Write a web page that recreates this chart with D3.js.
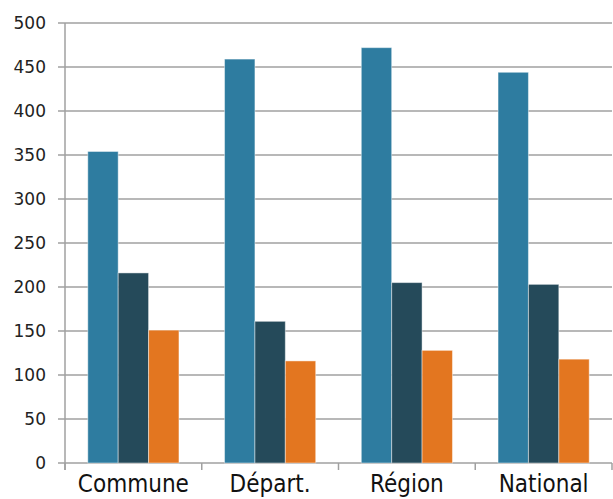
<!DOCTYPE html>
<html><head><meta charset="utf-8">
<script src="https://cdn.jsdelivr.net/npm/d3@7"></script>
<style>body{margin:0;background:#fff}svg{display:block}</style>
</head><body>
<svg id="c" width="613" height="499"></svg>
<script>
const categories = ["Commune", "Départ.", "Région", "National"];
const seriesNames = ["s1", "s2", "s3"];
const s1 = [354, 459, 472, 444];
const s2 = [216, 161, 205, 203];
const s3 = [151, 116, 128, 118];
const yTicks = [0, 50, 100, 150, 200, 250, 300, 350, 400, 450, 500];
const colors = ["#2e7ca0", "#254a5a", "#e37620"];

const svg = d3.select("#c");
const L = 65, R = 612, T = 23, B = 463;
const x = d3.scaleBand().domain(categories).range([L, R]).paddingInner(0).paddingOuter(0);
const y = d3.scaleLinear().domain([0, 500]).range([B, T]);
const x1 = d3.scaleBand().domain(seriesNames).range([0, x.bandwidth()]).paddingOuter(0.75).paddingInner(0);

// gridlines
svg.append("g").selectAll("line").data(yTicks).join("line")
  .attr("x1", L - 7).attr("x2", R).attr("y1", d => y(d)).attr("y2", d => y(d))
  .attr("stroke", "#a0a0a0").attr("stroke-width", 1.5);

// bars
const data = categories.map((c, i) => ({c, vals: [s1[i], s2[i], s3[i]]}));
const g = svg.append("g");
data.forEach(d => {
  g.append("g").attr("transform", `translate(${x(d.c)},0)`)
   .selectAll("rect").data(d.vals.map((v, j) => ({v, k: seriesNames[j], j}))).join("rect")
   .attr("x", e => x1(e.k)).attr("width", x1.bandwidth())
   .attr("y", e => y(e.v)).attr("height", e => B - y(e.v))
   .attr("fill", e => colors[e.j])
   .attr("stroke", "rgba(255,255,255,0.45)").attr("stroke-width", 1);
});

// y axis line
svg.append("line").attr("x1", L).attr("x2", L).attr("y1", T).attr("y2", B + 7)
  .attr("stroke", "#a0a0a0").attr("stroke-width", 1.5);

// y tick labels
svg.append("g").selectAll("text").data(yTicks).join("text")
  .attr("x", 46).attr("y", d => y(d)).attr("dy", "0.36em")
  .attr("text-anchor", "end")
  .attr("font-family", "DejaVu Sans").attr("font-size", 17).attr("fill", "#222")
  .text(d => d);

// x axis ticks
const xt = categories.map(c => x(c)).concat([R]);
svg.append("g").selectAll("line").data(xt).join("line")
  .attr("x1", d => d).attr("x2", d => d).attr("y1", B).attr("y2", B + 7)
  .attr("stroke", "#a0a0a0").attr("stroke-width", 1.5);

// category labels
svg.append("g").selectAll("text").data(categories).join("text")
  .attr("x", d => x(d) + x.bandwidth() / 2).attr("y", 492)
  .attr("text-anchor", "middle")
  .attr("font-family", "DejaVu Sans Condensed").attr("font-stretch", "condensed")
  .attr("font-size", 24).attr("fill", "#111")
  .text(d => d);
</script>
</body></html>
